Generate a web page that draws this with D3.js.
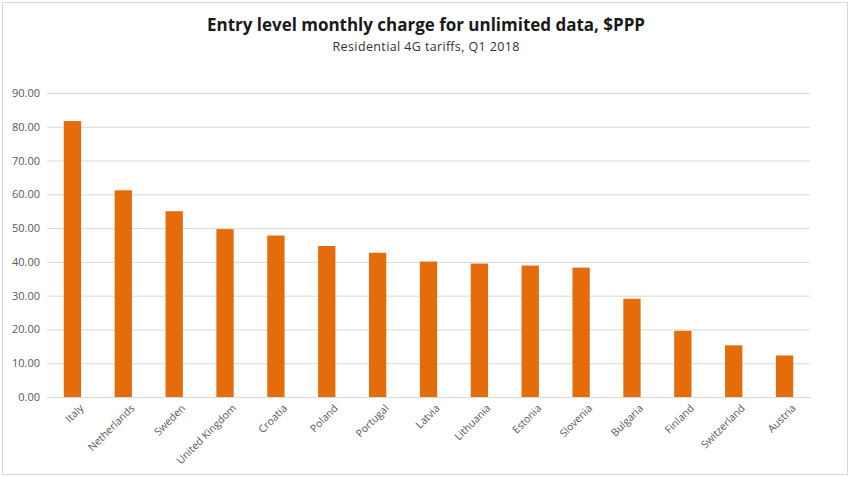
<!DOCTYPE html>
<html>
<head>
<meta charset="utf-8">
<script src="https://cdn.jsdelivr.net/npm/d3@7"></script>
<style>
  body { margin: 0; background: #fff; }
  svg { display: block; font-family: 'Open Sans', sans-serif; }
</style>
</head>
<body>
<svg id="chart"></svg>
<script>
// chart data
const countries = ['Italy', 'Netherlands', 'Sweden', 'United Kingdom', 'Croatia', 'Poland', 'Portugal',
  'Latvia', 'Lithuania', 'Estonia', 'Slovenia', 'Bulgaria', 'Finland', 'Switzerland', 'Austria']
const charges = [81.7, 61.2, 55.0, 49.7, 47.8, 44.7, 42.7, 40.1, 39.5, 38.9, 38.3, 29.1, 19.6, 15.3, 12.3]
const yTicks = [0, 10, 20, 30, 40, 50, 60, 70, 80, 90]

const WIDTH = 850
const HEIGHT = 477
// plot area edges
const LEFT = 47
const RIGHT = 810
const TOP = 93
const BOTTOM = 397

const svg = d3.select('#chart')
  .attr('width', WIDTH)
  .attr('height', HEIGHT)

// light frame round the chart
svg.append('rect')
  .attr('x', 2.5).attr('y', 2.5)
  .attr('width', WIDTH - 5).attr('height', HEIGHT - 5)
  .attr('fill', 'none')
  .attr('stroke', '#d9d9d9')

svg.append('text')
  .attr('x', 426).attr('y', 31)
  .attr('text-anchor', 'middle')
  .attr('font-size', 17)
  .attr('font-weight', 'bold')
  .attr('fill', '#1a1a1a')
  .attr('textLength', 438)
  .text('Entry level monthly charge for unlimited data, $PPP')

svg.append('text')
  .attr('x', 426).attr('y', 51)
  .attr('text-anchor', 'middle')
  .attr('font-size', 12.5)
  .attr('fill', '#333')
  .attr('textLength', 187)
  .text('Residential 4G tariffs, Q1 2018')

const x = d3.scaleBand()
  .domain(countries)
  .range([LEFT, RIGHT])
  .paddingInner(0.66)
  .paddingOuter(0.33)

const y = d3.scaleLinear()
  .domain([0, 90])
  .range([BOTTOM, TOP])

// y axis: labels only, gridlines across the plot
const yAxis = d3.axisLeft(y)
  .tickValues(yTicks)
  .tickFormat(d3.format('.2f'))
  .tickSize(-(RIGHT - LEFT))
  .tickPadding(7)

svg.append('g')
  .attr('transform', `translate(${LEFT},0)`)
  .call(yAxis)
  .call((g) => {
    g.select('.domain').remove()
    g.selectAll('.tick line').attr('stroke', '#d9d9d9')
    g.selectAll('.tick text')
      .attr('fill', '#595959')
      .attr('font-size', 11)
      .attr('font-family', 'Open Sans, sans-serif')
  })

svg.append('g')
  .selectAll('rect')
  .data(countries.map((c, i) => ({ country: c, value: charges[i] })))
  .join('rect')
  .attr('x', (d) => x(d.country))
  .attr('y', (d) => y(d.value))
  .attr('width', x.bandwidth())
  .attr('height', (d) => y(0) - y(d.value))
  .attr('fill', '#e46c0a')

// x axis with rotated labels
const xAxis = d3.axisBottom(x)
  .tickSize(0)
  .tickPadding(8)

svg.append('g')
  .attr('transform', `translate(0,${BOTTOM})`)
  .call(xAxis)
  .call((g) => {
    g.select('.domain').attr('stroke', '#d9d9d9')
    g.selectAll('.tick text')
      .attr('fill', '#595959')
      .attr('font-size', 10.5)
      .attr('font-family', 'Open Sans, sans-serif')
      .attr('text-anchor', 'end')
      .attr('dy', '0.3em')
      .attr('transform', 'translate(4,4) rotate(-45)')
  })
</script>
</body>
</html>
